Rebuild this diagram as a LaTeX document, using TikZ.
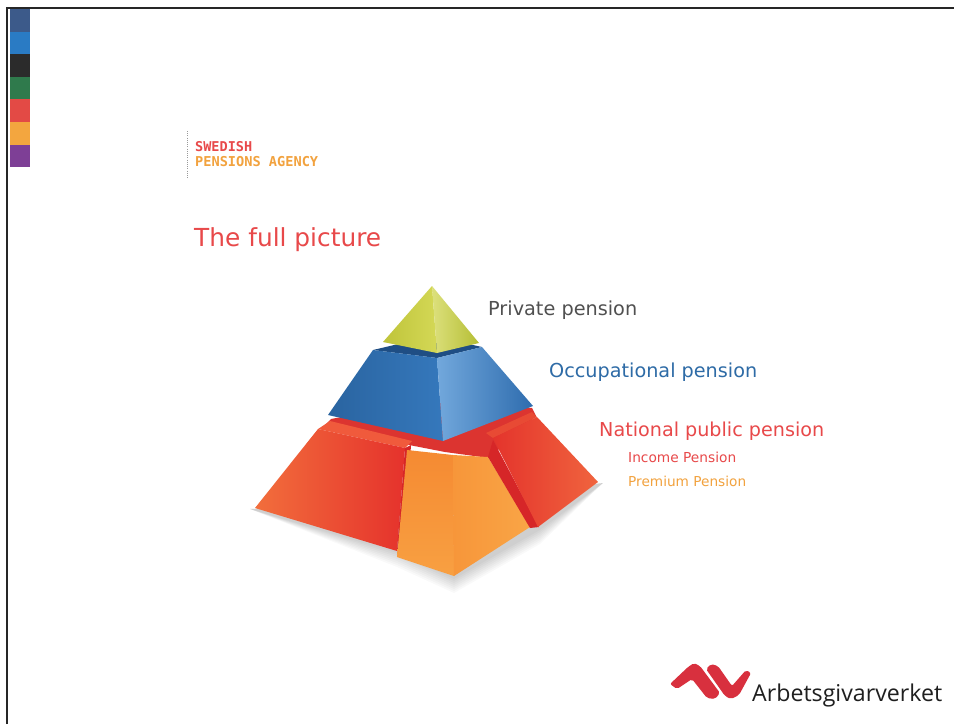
\documentclass[tikz,border=0pt]{standalone}
\usepackage{fontspec}
\setmainfont{DejaVu Sans}
\newfontfamily\logofont{Open Sans}
\newfontfamily\agencyfont{DejaVu Sans Mono}
\usetikzlibrary{calc}

\definecolor{txtred}{HTML}{E8494A}
\definecolor{txtorange}{HTML}{F2A23E}
\definecolor{txtblue}{HTML}{2E6BA6}
\definecolor{txtgrey}{HTML}{505050}
\definecolor{logored}{HTML}{D8303E}
\definecolor{stripA}{HTML}{3C5A8A}
\definecolor{stripB}{HTML}{2A7BC4}
\definecolor{stripC}{HTML}{2B2B2B}
\definecolor{stripD}{HTML}{2F7A4C}
\definecolor{stripE}{HTML}{E34A45}
\definecolor{stripF}{HTML}{F3A63F}
\definecolor{stripG}{HTML}{7E3F96}
% pyramid colours
\definecolor{ledge}{HTML}{DC3430}
\definecolor{lbtop}{HTML}{F05A3C}
\definecolor{lbleft}{HTML}{F26E3C}
\definecolor{lbright}{HTML}{E5322C}
\definecolor{gapred}{HTML}{D62628}
\definecolor{fbtop}{HTML}{F58A32}
\definecolor{fbbottom}{HTML}{F8A042}
\definecolor{fbrleft}{HTML}{F7963A}
\definecolor{fbrright}{HTML}{F9A546}
\definecolor{rbtop}{HTML}{E84A34}
\definecolor{rbleft}{HTML}{E4342C}
\definecolor{rbright}{HTML}{F0643E}
\definecolor{bltop}{HTML}{1F4E84}
\definecolor{blleft}{HTML}{2A64A0}
\definecolor{blright}{HTML}{3578BC}
\definecolor{brleft}{HTML}{72A8DC}
\definecolor{brright}{HTML}{2E6CAE}
\definecolor{ylleft}{HTML}{BFC43A}
\definecolor{ylright}{HTML}{D4D856}
\definecolor{yrleft}{HTML}{DCE07C}
\definecolor{yrright}{HTML}{B5BE34}

\tikzset{
  label/.style={inner sep=0pt, anchor=base west},
}

\begin{document}
\begin{tikzpicture}[x=1pt,y=-1pt]
\useasboundingbox (0,0) rectangle (954,724);
\fill[white] (0,0) rectangle (954,724);

% frame lines
\draw[line width=2pt, black!85] (7,724) -- (7,8) -- (954,8);

% colour strip
\foreach \c [count=\i from 0] in {stripA,stripB,stripC,stripD,stripE,stripF,stripG}
  \fill[\c] (9.5,{9+\i*22.6}) rectangle (29.5,{9+(\i+1)*22.6});

% agency mark
\draw[black!40, line width=0.8pt, dash pattern=on 1pt off 1.2pt] (187,131) -- (187,178);
\node[label, text=txtred] (sw) at (195,151)
  {\resizebox{57pt}{!}{\agencyfont\bfseries SWEDISH}};
\node[label, text=txtorange] (pa) at (195,166)
  {\resizebox{123pt}{!}{\agencyfont\bfseries PENSIONS AGENCY}};

% title
\node[label, text=txtred] (title) at (194,246)
  {\resizebox{187pt}{!}{The full picture}};

% ---------- pyramid ----------
% soft ground shadow
\foreach \k in {2,4,...,16}
  \fill[black, opacity=0.025] (250,509) -- (397,{551+\k}) -- (454,{577+\k})
     -- (540,{528+\k}) -- (603,483) -- (454,500) -- cycle;

% bottom tier: ledge behind the blocks
\fill[ledge] (322,428) -- (331,419) -- (440,398) -- (532,408)
   -- (536,416) -- (489,458) -- (445,452) -- cycle;

% left block
\fill[lbtop] (318,429) -- (330,421) -- (412,441) -- (405,448) -- cycle;
\shade[left color=lbleft, right color=lbright]
  (318,429) -- (405,448) -- (397,551) -- (255,508) -- cycle;
\fill[gapred] (405,448) -- (411,445) -- (404,555) -- (397,551) -- cycle;

% front block
\shade[top color=fbtop, bottom color=fbbottom]
  (407,450) -- (453,455) -- (454,576) -- (397,557) -- cycle;
\shade[left color=fbrleft, right color=fbrright]
  (453,455) -- (488,457) -- (530,527) -- (454,576) -- cycle;

% right block
\fill[gapred] (488,457) -- (493,440) -- (539,527) -- (530,528) -- cycle;
\fill[rbtop] (486,433) -- (532,412) -- (537,417) -- (493,438) -- cycle;
\shade[left color=rbleft, right color=rbright]
  (493,438) -- (537,417) -- (598,482) -- (538,527) -- cycle;

% middle tier
\fill[bltop] (373,350) -- (432,336) -- (482,347) -- (437,358) -- cycle;
\shade[left color=blleft, right color=blright]
  (373,350) -- (437,358) -- (443,441) -- (328,415) -- cycle;
\shade[left color=brleft, right color=brright]
  (437,358) -- (482,347) -- (533,406) -- (443,441) -- cycle;

% top tier
\shade[left color=ylleft, right color=ylright]
  (432,286) -- (383,342) -- (437,353) -- cycle;
\shade[left color=yrleft, right color=yrright]
  (432,286) -- (437,353) -- (479,343) -- cycle;

% tier labels
\node[label, text=txtgrey] (private) at (488,315)
  {\resizebox{149pt}{!}{Private pension}};
\node[label, text=txtblue] (occ) at (549,377)
  {\resizebox{208pt}{!}{Occupational pension}};
\node[label, text=txtred] (nat) at (599,436)
  {\resizebox{225pt}{!}{National public pension}};
\node[label, text=txtred] (inc) at (628,462)
  {\resizebox{108pt}{!}{Income Pension}};
\node[label, text=txtorange] (prem) at (628,486)
  {\resizebox{118pt}{!}{Premium Pension}};

% ---------- logo ----------
% first ribbon: thin rising tail, rounded peak, thick descent
\fill[logored, rounded corners=2pt]
  (670,684) -- (688,667) -- (694,663) -- (700,666) -- (720,693) -- (715,699)
  -- (707,698) -- (692,679) -- (677,689) -- cycle;
% second ribbon: rounded top, thick descent, thin rising tail
\fill[logored, rounded corners=2pt]
  (706,669) -- (711,664) -- (718,666) -- (732,686) -- (746,670) -- (751,673)
  -- (739,695) -- (731,699) -- (725,696) -- cycle;
\node[label, text=black!88] (logo) at (752,701)
  {\resizebox{190pt}{!}{\logofont Arbetsgivarverket}};
\end{tikzpicture}
\end{document}
